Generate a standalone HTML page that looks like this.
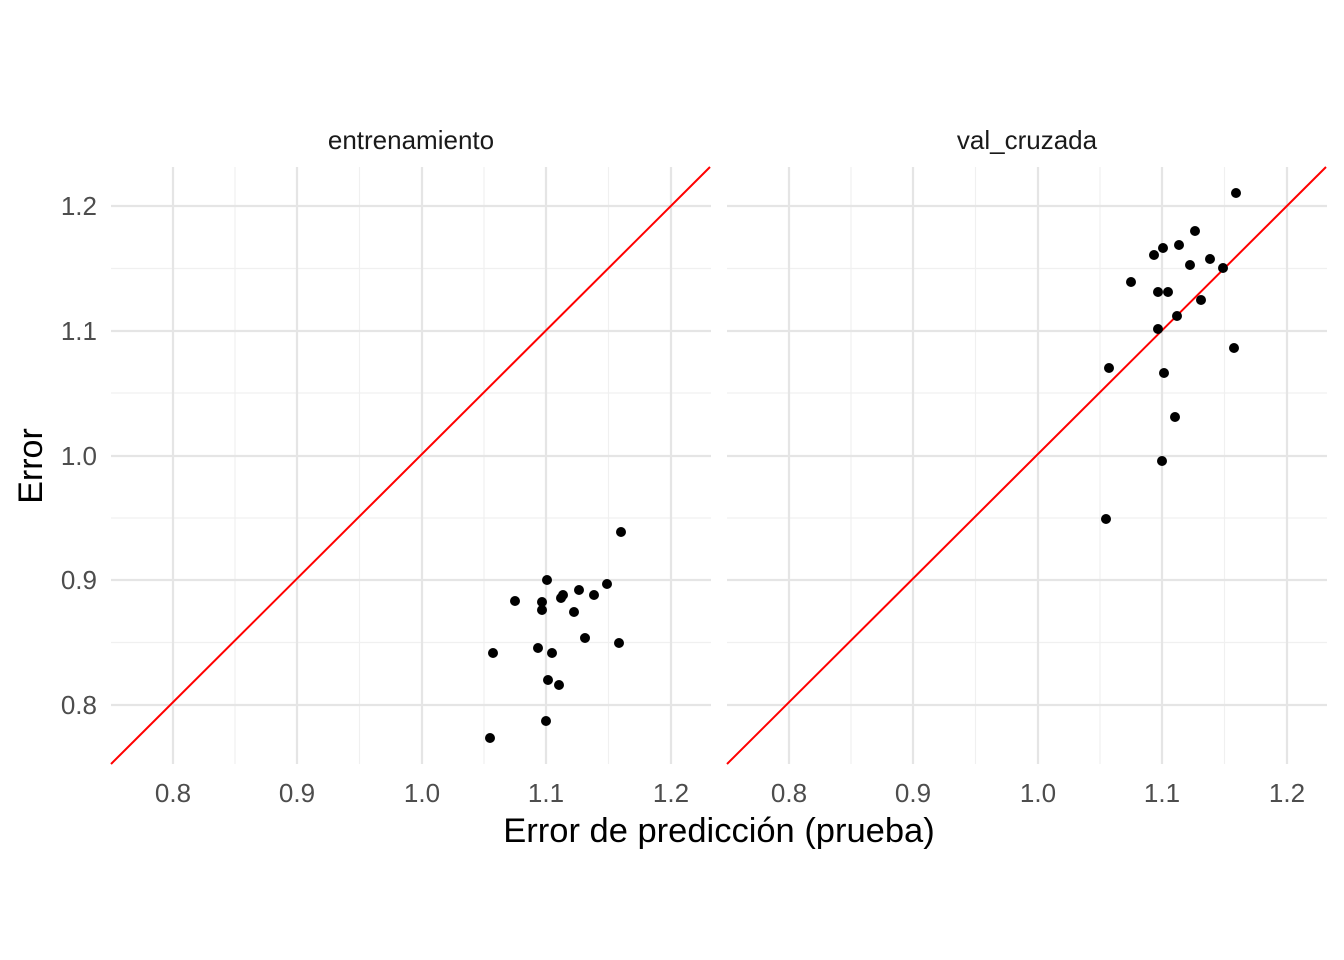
<!DOCTYPE html>
<html><head><meta charset="utf-8"><style>body{margin:0;background:#fff}svg{display:block}</style></head><body>
<svg width="1344" height="960" xmlns="http://www.w3.org/2000/svg" font-family="Liberation Sans, Arial, sans-serif">
<defs>
<g id="grid">
<g stroke="#f0f0f0" stroke-width="1.2">
<line x1="0" x2="600" y1="268.5" y2="268.5"/><line x1="0" x2="600" y1="393" y2="393"/><line x1="0" x2="600" y1="518" y2="518"/><line x1="0" x2="600" y1="642.5" y2="642.5"/>
<line x1="124" x2="124" y1="167" y2="764"/><line x1="248.5" x2="248.5" y1="167" y2="764"/><line x1="373" x2="373" y1="167" y2="764"/><line x1="497.5" x2="497.5" y1="167" y2="764"/>
</g>
<g stroke="#e5e5e5" stroke-width="2.2">
<line x1="0" x2="600" y1="206" y2="206"/><line x1="0" x2="600" y1="331" y2="331"/><line x1="0" x2="600" y1="456" y2="456"/><line x1="0" x2="600" y1="580" y2="580"/><line x1="0" x2="600" y1="705" y2="705"/>
<line x1="62" x2="62" y1="167" y2="764"/><line x1="186" x2="186" y1="167" y2="764"/><line x1="311" x2="311" y1="167" y2="764"/><line x1="435" x2="435" y1="167" y2="764"/><line x1="560" x2="560" y1="167" y2="764"/>
</g>
<line x1="0" y1="764" x2="599" y2="167" stroke="#ff0000" stroke-width="2"/>
<g font-size="26" fill="#4d4d4d" text-anchor="middle">
<text x="62" y="802">0.8</text><text x="186" y="802">0.9</text><text x="311" y="802">1.0</text><text x="435" y="802">1.1</text><text x="560" y="802">1.2</text>
</g>
</g>
</defs>
<use href="#grid" x="111"/>
<use href="#grid" x="727"/>
<g font-size="26" fill="#4d4d4d" text-anchor="end">
<text x="97" y="215">1.2</text><text x="97" y="340">1.1</text><text x="97" y="465">1.0</text><text x="97" y="589">0.9</text><text x="97" y="714">0.8</text>
</g>
<g font-size="26" fill="#1a1a1a" text-anchor="middle">
<text x="411" y="149">entrenamiento</text><text x="1027" y="149">val_cruzada</text>
</g>
<text x="719" y="842" font-size="34.5" text-anchor="middle">Error de predicción (prueba)</text>
<text transform="translate(42,466) rotate(-90)" font-size="34" text-anchor="middle">Error</text>
<g fill="#000">
<circle cx="621" cy="532" r="5"/><circle cx="547" cy="580" r="5"/><circle cx="607" cy="584" r="5"/><circle cx="515" cy="601" r="5"/><circle cx="542" cy="602" r="5"/><circle cx="563" cy="595" r="5"/><circle cx="579" cy="590" r="5"/><circle cx="561" cy="598" r="5"/><circle cx="594" cy="595" r="5"/><circle cx="542" cy="610" r="5"/><circle cx="574" cy="612" r="5"/><circle cx="585" cy="638" r="5"/><circle cx="493" cy="653" r="5"/><circle cx="538" cy="648" r="5"/><circle cx="552" cy="653" r="5"/><circle cx="619" cy="643" r="5"/><circle cx="548" cy="680" r="5"/><circle cx="559" cy="685" r="5"/><circle cx="546" cy="721" r="5"/><circle cx="490" cy="738" r="5"/>
<circle cx="1236" cy="193" r="5"/><circle cx="1195" cy="231" r="5"/><circle cx="1179" cy="245" r="5"/><circle cx="1163" cy="248" r="5"/><circle cx="1154" cy="255" r="5"/><circle cx="1190" cy="265" r="5"/><circle cx="1210" cy="259" r="5"/><circle cx="1223" cy="268" r="5"/><circle cx="1131" cy="282" r="5"/><circle cx="1158" cy="292" r="5"/><circle cx="1168" cy="292" r="5"/><circle cx="1201" cy="300" r="5"/><circle cx="1177" cy="316" r="5"/><circle cx="1158" cy="329" r="5"/><circle cx="1234" cy="348" r="5"/><circle cx="1109" cy="368" r="5"/><circle cx="1164" cy="373" r="5"/><circle cx="1175" cy="417" r="5"/><circle cx="1162" cy="461" r="5"/><circle cx="1106" cy="519" r="5"/>
</g>
</svg>
</body></html>
